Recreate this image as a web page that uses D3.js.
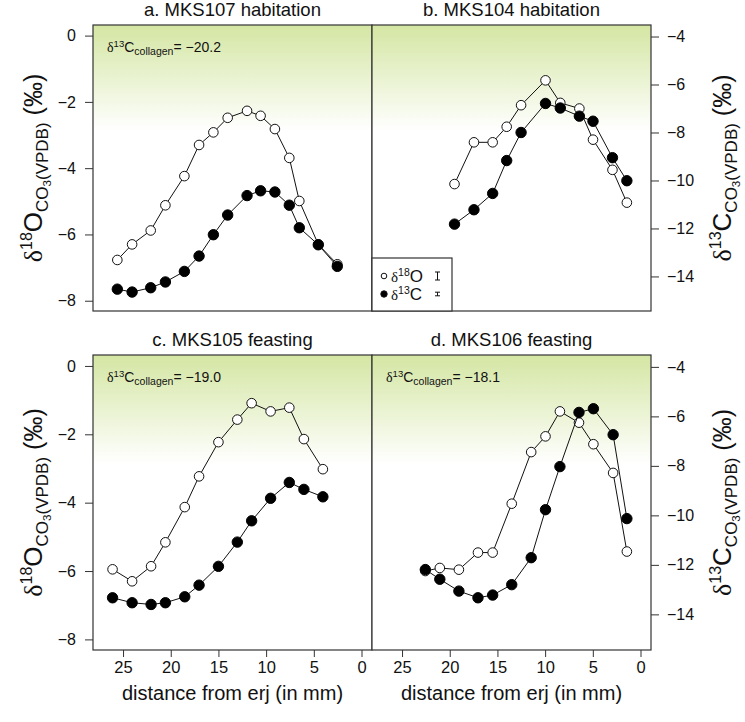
<!DOCTYPE html>
<html><head><meta charset="utf-8">
<script src="https://cdn.jsdelivr.net/npm/d3@7/dist/d3.min.js"></script>
<style>body{margin:0;background:#fff}svg{display:block}text{font-family:"Liberation Sans",Arial,sans-serif;fill:#111}</style>
</head><body><svg id="c" width="745" height="722"></svg>
<script>
// ---- data ----
const titles = ["a. MKS107 habitation","b. MKS104 habitation","c. MKS105 feasting","d. MKS106 feasting"];
const collagen = ["−20.2", null, "−19.0", "−18.1"];
const aDist = [25.6,24.05,22.1,20.56,18.57,17.03,15.53,14.03,12.0,10.58,9.08,7.57,6.52,4.53,2.54];
const aO = [-6.77,-6.30,-5.88,-5.12,-4.24,-3.30,-2.92,-2.48,-2.27,-2.42,-2.82,-3.69,-4.99,-6.30,-6.90];
const aC = [-14.53,-14.65,-14.47,-14.23,-13.79,-13.15,-12.26,-11.44,-10.63,-10.43,-10.48,-11.03,-11.97,-12.68,-13.58];
const bDist = [19.5,17.46,15.5,14.03,12.52,9.96,8.41,6.41,4.98,2.94,1.43];
const bO = [-4.48,-3.22,-3.22,-2.75,-2.10,-1.35,-2.03,-2.20,-3.14,-4.05,-5.04];
const bC = [-11.82,-11.22,-10.54,-9.17,-8.00,-6.79,-6.98,-7.32,-7.53,-9.05,-10.01];
const cDist = [26.1,24.05,22.06,20.56,18.53,17.03,15.0,13.02,11.52,9.53,7.57,6.04,4.05];
const cO = [-5.95,-6.30,-5.86,-5.16,-4.13,-3.23,-2.23,-1.57,-1.09,-1.33,-1.22,-2.14,-3.02];
const cC = [-13.33,-13.53,-13.60,-13.53,-13.29,-12.82,-12.06,-11.08,-10.22,-9.31,-8.67,-8.95,-9.25];
const dDist = [22.56,21.04,19.04,17.04,15.5,13.5,11.46,9.96,8.45,6.45,4.94,2.87,1.43];
const dO = [-6.00,-5.91,-5.96,-5.46,-5.46,-4.03,-2.52,-2.06,-1.33,-1.66,-2.29,-3.13,-5.43];
const dC = [-12.19,-12.58,-13.06,-13.33,-13.22,-12.80,-11.71,-9.77,-8.03,-5.84,-5.69,-6.74,-10.13];
const xTicks = [25,20,15,10,5,0];
const oTicks = [0,-2,-4,-6,-8];
const cTicks = [-4,-6,-8,-10,-12,-14];
const xLabel = "distance from erj (in mm)";

// ---- layout ----
const svg = d3.select("#c");
const cols = [[93,372],[372,651]];
const rows = [[25,311],[355,650]];
const panels = [
  {dist:aDist,O:aO,C:aC,col:0,row:0},
  {dist:bDist,O:bO,C:bC,col:1,row:0},
  {dist:cDist,O:cO,C:cC,col:0,row:1},
  {dist:dDist,O:dO,C:dC,col:1,row:1}
];
const fmt = v => (v<0 ? "−"+Math.abs(v) : String(v));

const defs = svg.append("defs");
const grad = defs.append("linearGradient").attr("id","g").attr("x1",0).attr("y1",0).attr("x2",0).attr("y2",1);
grad.append("stop").attr("offset",0).attr("stop-color","#d4e6a3");
grad.append("stop").attr("offset",0.37).attr("stop-color","#ffffff");

panels.forEach((p,i)=>{
  const [x0,x1] = cols[p.col], [y0,y1] = rows[p.row];
  const x = d3.scaleLinear().domain([28.15,-1.1]).range([x0,x1]);
  const yO = d3.scaleLinear().domain([-8.31,0.32]).range([y1,y0]);
  const yC = d3.scaleLinear().domain([-15.44,-3.52]).range([y1,y0]);
  const g = svg.append("g");
  g.append("rect").attr("x",x0).attr("y",y0).attr("width",x1-x0).attr("height",y1-y0).attr("fill","url(#g)");
  // title
  g.append("text").attr("x",(x0+x1)/2).attr("y",y0-9).attr("text-anchor","middle").attr("font-size",18.5).text(titles[i]);
  // collagen note
  if(collagen[i]){
    const t = g.append("text").attr("x",x0+14).attr("y",y0+27).attr("font-size",14);
    t.append("tspan").attr("font-family","Liberation Serif").text("δ");
    t.append("tspan").attr("font-size",9.5).attr("dy",-5).text("13");
    t.append("tspan").attr("dy",5).text("C");
    t.append("tspan").attr("font-size",10.5).attr("dy",3).text("collagen");
    t.append("tspan").attr("dy",-3).text("= "+collagen[i]);
  }
  const pts = p.dist.map((d,k)=>({d,o:p.O[k],c:p.C[k]}));
  const lineO = d3.line().x(d=>x(d.d)).y(d=>yO(d.o));
  const lineC = d3.line().x(d=>x(d.d)).y(d=>yC(d.c));
  g.append("path").attr("d",lineO(pts)).attr("fill","none").attr("stroke","#111").attr("stroke-width",1);
  g.selectAll(".po").data(pts).enter().append("circle").attr("cx",d=>x(d.d)).attr("cy",d=>yO(d.o)).attr("r",4.8)
    .attr("fill","#fff").attr("stroke","#111").attr("stroke-width",1);
  g.append("path").attr("d",lineC(pts)).attr("fill","none").attr("stroke","#111").attr("stroke-width",1);
  g.selectAll(".pc").data(pts).enter().append("circle").attr("cx",d=>x(d.d)).attr("cy",d=>yC(d.c)).attr("r",5.2)
    .attr("fill","#000").attr("stroke","#000").attr("stroke-width",1);
  // axes
  if(p.col===0){
    const ax = g.append("g").attr("transform",`translate(${x0},0)`)
      .call(d3.axisLeft(yO).tickValues(oTicks).tickFormat(fmt).tickSize(8).tickPadding(9));
    ax.select(".domain").remove();
    ax.selectAll("text").attr("font-size",16).attr("font-family","Liberation Sans").attr("fill","#111");
    ax.selectAll("line").attr("stroke","#333");
  } else {
    const ax = g.append("g").attr("transform",`translate(${x1},0)`)
      .call(d3.axisRight(yC).tickValues(cTicks).tickFormat(fmt).tickSize(8).tickPadding(8));
    ax.select(".domain").remove();
    ax.selectAll("text").attr("font-size",16).attr("font-family","Liberation Sans").attr("fill","#111");
    ax.selectAll("line").attr("stroke","#333");
  }
  if(p.row===1){
    const ax = g.append("g").attr("transform",`translate(0,${y1})`)
      .call(d3.axisBottom(x).tickValues(xTicks).tickFormat(fmt).tickSize(7).tickPadding(4));
    ax.select(".domain").remove();
    ax.selectAll("text").attr("font-size",16.5).attr("font-family","Liberation Sans").attr("fill","#111");
    ax.selectAll("line").attr("stroke","#333");
    g.append("text").attr("x",(x0+x1)/2).attr("y",y1+50).attr("text-anchor","middle").attr("font-size",20).text(xLabel);
  }
  g.append("rect").attr("x",x0).attr("y",y0).attr("width",x1-x0).attr("height",y1-y0)
    .attr("fill","none").attr("stroke","#333").attr("stroke-width",1.2);
});

// y-axis titles
function yTitle(cx, cy, iso){
  const t = svg.append("text").attr("transform",`translate(${cx},${cy}) rotate(-90)`).attr("text-anchor","middle");
  t.append("tspan").attr("font-size",26).attr("font-family","Liberation Serif").text("δ");
  t.append("tspan").attr("font-size",16).attr("dy",-10).text(iso[0]);
  t.append("tspan").attr("font-size",26).attr("dy",10).text(iso[1]);
  t.append("tspan").attr("font-size",17).attr("dy",6).text("CO");
  t.append("tspan").attr("font-size",11.5).attr("dy",3).text("3");
  t.append("tspan").attr("font-size",17).attr("dy",-3).text("(VPDB)");
  t.append("tspan").attr("font-size",25).attr("dy",-6).text(" (‰)");
}
rows.forEach(([y0,y1])=>{
  yTitle(42,(y0+y1)/2,["18","O"]);
  yTitle(731,(y0+y1)/2,["13","C"]);
});

// legend
const lg = svg.append("g");
lg.append("rect").attr("x",372).attr("y",258).attr("width",80).attr("height",53).attr("fill","#fff").attr("stroke","#333").attr("stroke-width",1.2);
const legItems = [{iso:"18",el:"O",fill:"#fff",r:2.8,y:276,eb:4},{iso:"13",el:"C",fill:"#000",r:3.2,y:294,eb:1.8}];
legItems.forEach(it=>{
  lg.append("circle").attr("cx",384).attr("cy",it.y).attr("r",it.r).attr("fill",it.fill).attr("stroke","#111");
  const t = lg.append("text").attr("x",391).attr("y",it.y+6).attr("font-size",15);
  t.append("tspan").attr("font-family","Liberation Serif").text("δ");
  t.append("tspan").attr("font-size",10.5).attr("dy",-6).text(it.iso);
  t.append("tspan").attr("font-size",17).attr("dy",6).text(it.el);
  const ex = 437.5;
  lg.append("line").attr("x1",ex).attr("x2",ex).attr("y1",it.y-it.eb).attr("y2",it.y+it.eb).attr("stroke","#111");
  lg.append("line").attr("x1",ex-2.5).attr("x2",ex+2.5).attr("y1",it.y-it.eb).attr("y2",it.y-it.eb).attr("stroke","#111");
  lg.append("line").attr("x1",ex-2.5).attr("x2",ex+2.5).attr("y1",it.y+it.eb).attr("y2",it.y+it.eb).attr("stroke","#111");
});
</script></body></html>
